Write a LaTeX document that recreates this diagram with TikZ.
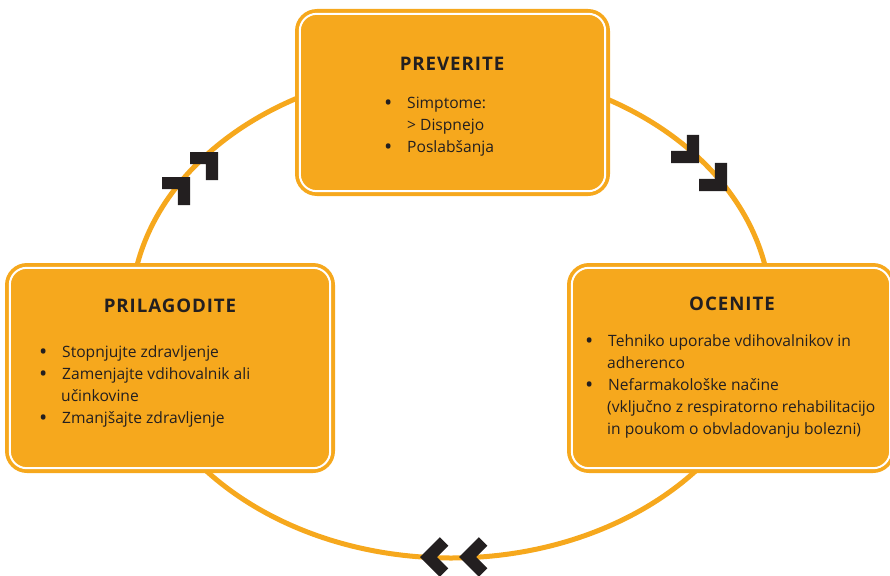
\documentclass[tikz,border=0pt]{standalone}
\usepackage{fontspec}
\setmainfont{Open Sans}
\newfontfamily\titlefont{Open Sans}[LetterSpace=5]
\definecolor{ora}{HTML}{F6A81D}
\definecolor{ink}{HTML}{231F20}
\newcommand\blt{\makebox[19pt][l]{\makebox[0pt][c]{\fontsize{22}{22}\selectfont\raisebox{-2.8pt}{•}}}}
\begin{document}
\begin{tikzpicture}[x=1pt,y=1pt,
  ring/.style={draw=ora, line width=5},
  box/.style={rectangle, fill=ora, rounded corners=22, inner sep=0, draw=none},
  innerline/.style={draw=white, line width=2, rounded corners=17},
  ttl/.style={font=\titlefont\bfseries\fontsize{18.7}{22}\selectfont, text=ink, anchor=base, inner sep=0},
  txt/.style={font=\fontsize{15.6}{18}\selectfont, text=ink, anchor=base west, inner sep=0},
  chev/.pic={\fill[ink] (0,0) -- (-19.8,19.8) -- (-28.3,11.3) -- (-17,0) -- (-28.3,-11.3) -- (-19.8,-19.8) -- cycle;}
]
\useasboundingbox (0,0) rectangle (890,-575);
\clip (0,0) rectangle (890,-575);
% cycle ring
\draw[ring] (451,-313) ellipse [x radius=320, y radius=245];
% chevrons
\pic[rotate=45] at (218,-152) {chev};
\pic[rotate=45] at (190,-177) {chev};
\pic[rotate=-45] at (699,-163) {chev};
\pic[rotate=-45] at (727,-191) {chev};
\pic[rotate=180] at (420,-557) {chev};
\pic[rotate=180] at (459,-557) {chev};
% boxes
\node[box, minimum width=315, minimum height=187] (check) at (452.5,-102.5) {};
\node[box, minimum width=330, minimum height=210] (adjust) at (170,-368) {};
\node[box, minimum width=328, minimum height=210] (assess) at (731,-368) {};
\draw[innerline] ([shift={(5,-5)}]check.north west) rectangle ([shift={(-5,5)}]check.south east);
\draw[innerline] ([shift={(5,-5)}]adjust.north west) rectangle ([shift={(-5,5)}]adjust.south east);
\draw[innerline] ([shift={(5,-5)}]assess.north west) rectangle ([shift={(-5,5)}]assess.south east);
% top box text
\node[ttl] (t1) at (452,-71) {PREVERITE};
\node[txt] (l11) at (388,-108) {\blt Simptome:};
\node[txt] (l12) at (407,-130) {> Dispnejo};
\node[txt] (l13) at (388,-152) {\blt Poslabšanja};
% left box text
\node[ttl] (t2) at (170,-312) {PRILAGODITE};
\node[txt] (l21) at (43,-357) {\blt Stopnjujte zdravljenje};
\node[txt] (l22) at (43,-379) {\blt Zamenjajte vdihovalnik ali};
\node[txt] (l23) at (61,-401) {učinkovine};
\node[txt] (l24) at (43,-423) {\blt Zmanjšajte zdravljenje};
% right box text
\node[ttl] (t3) at (732,-310) {OCENITE};
\node[txt] (l31) at (589,-346) {\blt Tehniko uporabe vdihovalnikov in};
\node[txt] (l32) at (607,-368) {adherenco};
\node[txt] (l33) at (589,-390) {\blt Nefarmakološke načine};
\node[txt] (l34) at (607,-412) {(vključno z respiratorno rehabilitacijo};
\node[txt] (l35) at (607,-434) {in poukom o obvladovanju bolezni)};
\end{tikzpicture}
\end{document}
